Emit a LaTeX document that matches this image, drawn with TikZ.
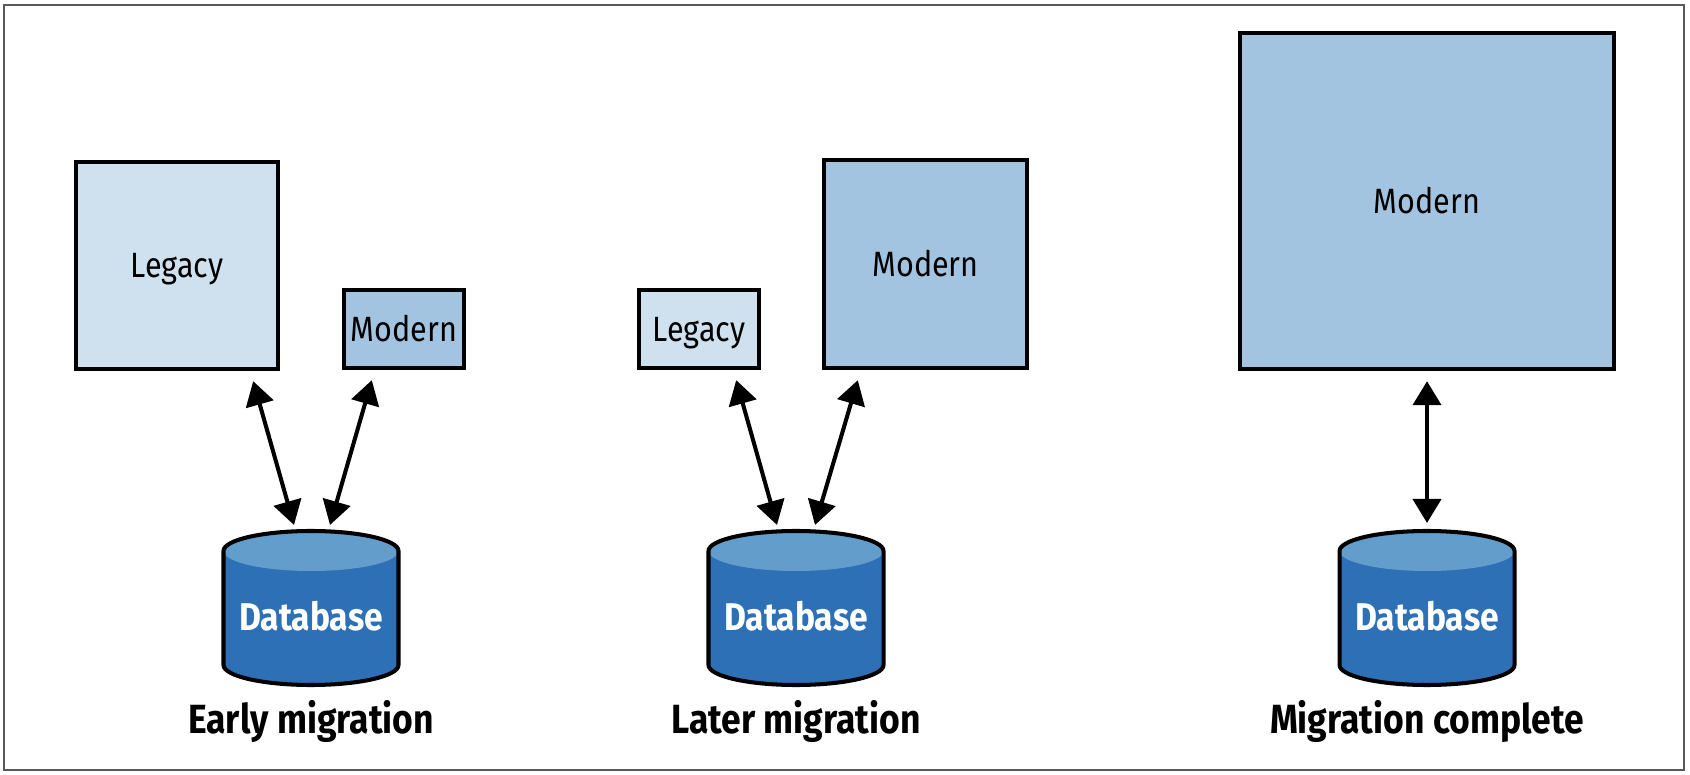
\documentclass[tikz,border=0pt]{standalone}
\usepackage{fontspec}
\setmainfont{Fira Sans}[FakeStretch=0.87]
\usepackage{tikz}
\usetikzlibrary{arrows.meta}
\usetikzlibrary{calc}
\definecolor{legacyfill}{HTML}{CFE1EF}
\definecolor{modernfill}{HTML}{A3C4E0}
\definecolor{dbbody}{HTML}{2E70B6}
\definecolor{dbtop}{HTML}{639DCC}
\tikzset{
  sysbox/.style={draw=black,line width=1.25pt,rectangle,inner sep=0pt,
    font=\fontsize{10}{12}\selectfont,text height=6.9pt,text depth=0pt},
  legacybox/.style={sysbox,fill=legacyfill},
  modernbox/.style={sysbox,fill=modernfill},
  dbtext/.style={text=white,anchor=base,inner sep=0pt,font=\bfseries\fontsize{11}{13}\selectfont},
  caption/.style={anchor=base,inner sep=0pt,font=\bfseries\fontsize{11.6}{14}\selectfont},
  link/.style={line width=1.15pt,{Triangle[length=2.4mm,width=2.8mm]}-{Triangle[length=2.4mm,width=2.8mm]}}
}
\def\database[#1](#2)% Syntax: [node name] (center x)
    { \fill[dbbody] (#2-0.875,2.23) -- (#2-0.875,1.09) arc[start angle=180,end angle=360,x radius=0.875,y radius=0.2] -- (#2+0.875,2.23) -- cycle;
      \fill[dbtop] (#2,2.23) ellipse[x radius=0.875,y radius=0.2];
      \draw[line width=1.15pt] (#2-0.875,1.09) -- (#2-0.875,2.23) arc[start angle=180,end angle=0,x radius=0.875,y radius=0.2] -- (#2+0.875,1.09) arc[start angle=0,end angle=-180,x radius=0.875,y radius=0.2] -- cycle;
      \node[dbtext] (#1) at (#2,1.44) {Database};
      \coordinate (#1top) at (#2,2.45); }

\begin{document}
\begin{tikzpicture}
      \useasboundingbox (0,0) rectangle (16.9,7.74);
      \draw[color=black!65,line width=0.4pt] (0.04,0.04) rectangle (16.84,7.69); %outer frame

      %EARLY MIGRATION
      \node[legacybox,minimum width=2.02cm,minimum height=2.07cm] (legacy1) at (1.77,5.085) {Legacy};
      \node[modernbox,minimum width=1.20cm,minimum height=0.78cm] (modern1) at (4.04,4.45) {Modern};
      \database[db1](3.11)
      \node[caption] (cap1) at (3.11,0.41) {Early migration};
      \draw[link] ([xshift=-2.7mm,yshift=-1mm]legacy1.south east) -- ([xshift=-1.7mm,yshift=0.4mm]db1top); %legacy to db
      \draw[link] ([xshift=3mm,yshift=-1mm]modern1.south west) -- ([xshift=1.9mm,yshift=0.4mm]db1top); %modern to db

      %LATER MIGRATION
      \node[legacybox,minimum width=1.20cm,minimum height=0.78cm] (legacy2) at (6.99,4.45) {Legacy};
      \node[modernbox,minimum width=2.03cm,minimum height=2.08cm] (modern2) at (9.255,5.10) {Modern};
      \database[db2](7.96)
      \node[caption] (cap2) at (7.96,0.41) {Later migration};
      \draw[link] ([xshift=-2.5mm,yshift=-1mm]legacy2.south east) -- ([xshift=-1.9mm,yshift=0.4mm]db2top); %legacy to db
      \draw[link] ([xshift=3.6mm,yshift=-1mm]modern2.south west) -- ([xshift=1.9mm,yshift=0.4mm]db2top); %modern to db

      %MIGRATION COMPLETE
      \node[modernbox,minimum width=3.74cm,minimum height=3.36cm] (modern3) at (14.27,5.73) {Modern};
      \database[db3](14.27)
      \node[caption] (cap3) at (14.27,0.41) {Migration complete};
      \draw[link] ([yshift=-1mm]modern3.south) -- ([yshift=0.6mm]db3top); %modern to db
\end{tikzpicture}
\end{document}
